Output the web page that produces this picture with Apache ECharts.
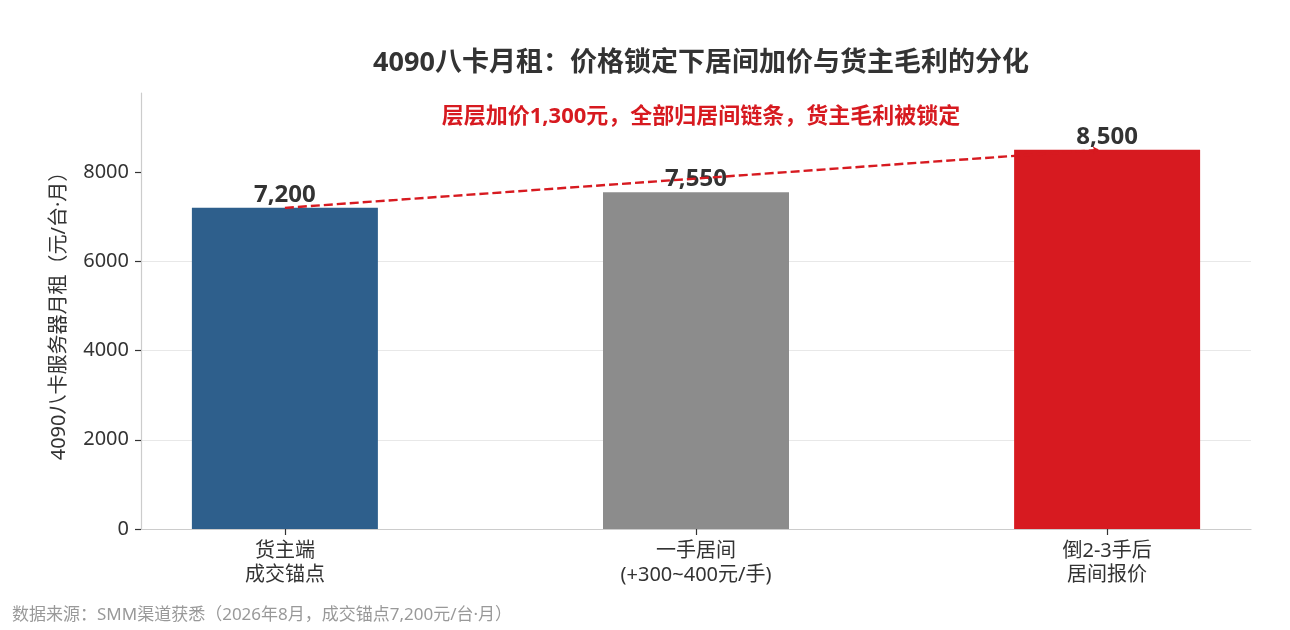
<!DOCTYPE html>
<html lang="zh">
<head>
<meta charset="UTF-8">
<title>4090八卡月租</title>
<script src="https://cdn.jsdelivr.net/npm/echarts@6/dist/echarts.min.js"></script>
<style>
  html, body { margin: 0; padding: 0; background: #fff; }
  #main { width: 1290px; height: 630px; }
</style>
</head>
<body>
<div id="main"></div>
<script>
// 数据
var categories = ['货主端\n成交锚点', '一手居间\n(+300~400元/手)', '倒2-3手后\n居间报价'];
var rents = [7200, 7550, 8500];
var barColors = ['#2e5f8c', '#8c8c8c', '#d71a20'];
var yTicks = [0, 2000, 4000, 6000, 8000];
// 加价箭头：从货主端到最终报价
var arrowFrom = [0, 7200];
var arrowTo = [1.98, 8500];

// 拉丁字符用 Noto Sans（“·”保持窄），中文回落到 CJK
var font = '"Noto Sans", "Noto Sans CJK SC", sans-serif';
var chart = echarts.init(document.getElementById('main'));

var barData = rents.map(function (v, i) {
  return { value: [i, v], itemStyle: { color: barColors[i] } };
});

chart.setOption({
  animation: false,
  textStyle: { fontFamily: font },
  title: [{
    text: '4090八卡月租：价格锁定下居间加价与货主毛利的分化',
    left: 696, top: 45, textAlign: 'center',
    textStyle: { fontSize: 27, fontWeight: 'bold', color: '#333', fontFamily: font }
  }, {
    text: '层层加价1,300元，全部归居间链条，货主毛利被锁定',
    left: 696, top: 101, textAlign: 'center',
    textStyle: { fontSize: 22, fontWeight: 'bold', color: '#d71a20', fontFamily: font }
  }, {
    text: '数据来源：SMM渠道获悉（2026年8月，成交锚点7,200元/台·月）',
    left: 7, top: 602,
    textStyle: { fontSize: 17, fontWeight: 'normal', color: '#999', fontFamily: font }
  }],
  grid: { left: 141, right: 39, top: 93, bottom: 101 },
  xAxis: {
    type: 'value',
    min: -0.35, max: 2.35,
    splitLine: { show: false },
    axisLine: { show: true, onZero: false, lineStyle: { color: '#ccc', width: 1.2 } },
    axisTick: { show: true, customValues: [0, 1, 2], length: 6, lineStyle: { color: '#333', width: 1.2 } },
    axisLabel: {
      customValues: [0, 1, 2],
      formatter: function (v) { return categories[Math.round(v)]; },
      fontSize: 20, color: '#333', lineHeight: 24, margin: 10, fontFamily: font
    }
  },
  yAxis: {
    type: 'value',
    min: 0, max: 9775,
    interval: 2000,
    name: '4090八卡服务器月租（元/台·月）',
    nameLocation: 'middle',
    nameGap: 72,
    nameTextStyle: { fontSize: 20, color: '#333', fontFamily: font },
    axisLine: { show: true, onZero: false, lineStyle: { color: '#ccc', width: 1.2 } },
    axisTick: { show: true, customValues: yTicks, length: 6, lineStyle: { color: '#333', width: 1.2 } },
    axisLabel: {
      customValues: yTicks,
      fontSize: 20, color: '#333', margin: 12, fontFamily: font,
      formatter: function (v) { return String(v); }
    },
    splitLine: { show: true, showMaxLine: false, showMinLine: false, lineStyle: { color: '#e8e8e8', width: 1.2 } }
  },
  series: [{
    type: 'bar',
    barWidth: 186,
    data: barData,
    label: {
      show: true, position: 'top', distance: 1,
      fontSize: 24, fontWeight: 'bold', color: '#333', fontFamily: font,
      formatter: function (p) { return p.value[1].toLocaleString('en-US'); }
    },
    markLine: {
      silent: true,
      z: 10,
      symbol: ['none', 'arrow'],
      symbolSize: [6, 6],
      label: { show: false },
      lineStyle: { color: '#d71a20', width: 2.4, type: [9, 4] },
      data: [[{ coord: arrowFrom }, { coord: arrowTo }]]
    }
  }]
});
</script>
</body>
</html>
